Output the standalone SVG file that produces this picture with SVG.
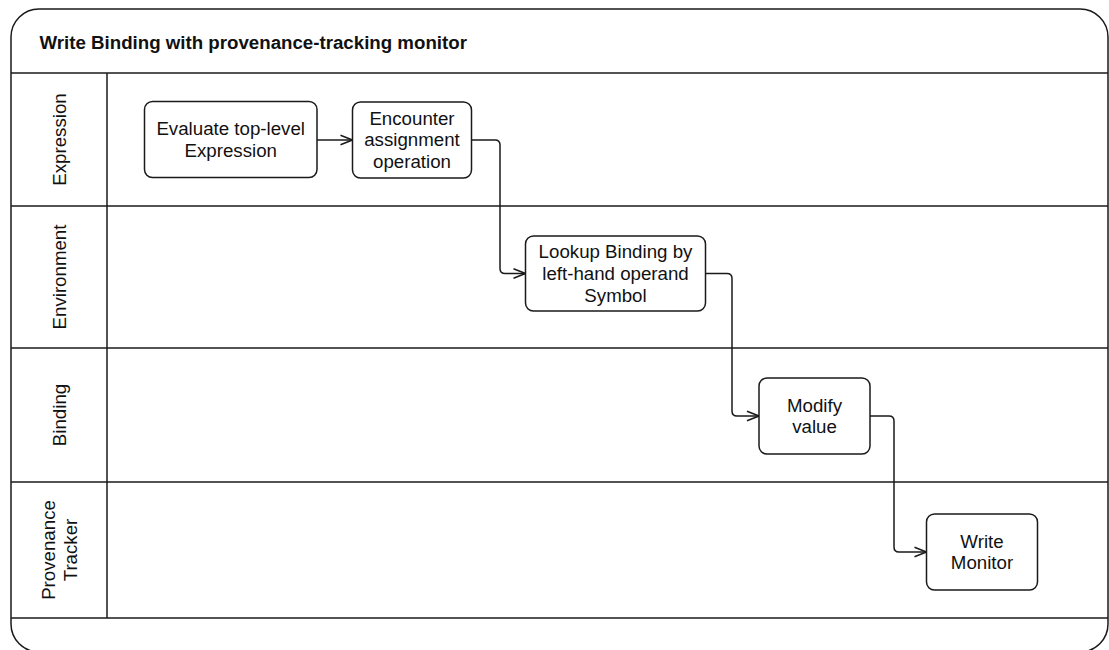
<svg xmlns="http://www.w3.org/2000/svg" width="1109" height="650" viewBox="0 0 1109 650">
  <style>
    .frame { fill: #ffffff; stroke: #1a1a1a; stroke-width: 1.5; }
    .rule { fill: none; stroke: #1a1a1a; stroke-width: 1.5; }
    .box { fill: #ffffff; stroke: #1a1a1a; stroke-width: 1.5; }
    .edge { fill: none; stroke: #1a1a1a; stroke-width: 1.5; }
    text { font-family: "Liberation Sans", Arial, Helvetica, sans-serif; font-size: 18.7px; fill: #111111; }
    .title { font-weight: bold; }
    .label { text-anchor: middle; }
  </style>
  <defs>
    <marker id="open-arrow" markerUnits="userSpaceOnUse" markerWidth="14" markerHeight="12" viewBox="0 0 14 12" refX="13" refY="6" orient="auto">
      <path d="M1,1.3 L13,6 L1,10.7" fill="none" stroke="#1a1a1a" stroke-width="1.5"/>
    </marker>
  </defs>

  <!-- pool frame, title bar and lanes -->
  <g id="pool">
    <rect class="frame" x="11" y="9" width="1097" height="643" rx="28" ry="28"/>
    <text class="title" x="39.5" y="49">Write Binding with provenance-tracking monitor</text>
    <line class="rule" x1="11" y1="73" x2="1108" y2="73"/>
    <line class="rule" x1="107" y1="73" x2="107" y2="618"/>
    <line class="rule" x1="11" y1="206" x2="1108" y2="206"/>
    <line class="rule" x1="11" y1="348" x2="1108" y2="348"/>
    <line class="rule" x1="11" y1="482" x2="1108" y2="482"/>
    <line class="rule" x1="11" y1="618" x2="1108" y2="618"/>
  </g>

  <g id="lane-expression">
    <text class="label" transform="translate(66,139.5) rotate(-90)">Expression</text>
  </g>
  <g id="lane-environment">
    <text class="label" transform="translate(66,277) rotate(-90)">Environment</text>
  </g>
  <g id="lane-binding">
    <text class="label" transform="translate(66,415) rotate(-90)">Binding</text>
  </g>
  <g id="lane-provenance-tracker">
    <text class="label" transform="translate(55,550) rotate(-90)">Provenance</text>
    <text class="label" transform="translate(76.7,550) rotate(-90)">Tracker</text>
  </g>

  <!-- connectors -->
  <g id="connectors">
    <path class="edge" d="M317,140 H352.5" marker-end="url(#open-arrow)"/>
    <path class="edge" d="M471.5,140 H495 Q500,140 500,145 V268.5 Q500,273.5 505,273.5 H525.5" marker-end="url(#open-arrow)"/>
    <path class="edge" d="M705.5,273.5 H727 Q732,273.5 732,278.5 V411 Q732,416 737,416 H759" marker-end="url(#open-arrow)"/>
    <path class="edge" d="M870,416 H889 Q894,416 894,421 V547 Q894,552 899,552 H926.5" marker-end="url(#open-arrow)"/>
  </g>

  <!-- activity nodes -->
  <g id="node-evaluate">
    <rect class="box" x="144.5" y="101.5" width="172.5" height="76" rx="8" ry="8"/>
    <text class="label" x="230.7" y="135.2">Evaluate top-level</text>
    <text class="label" x="230.7" y="156.9">Expression</text>
  </g>
  <g id="node-encounter">
    <rect class="box" x="352.5" y="102" width="119" height="76" rx="8" ry="8"/>
    <text class="label" x="412" y="124.5">Encounter</text>
    <text class="label" x="412" y="146.2">assignment</text>
    <text class="label" x="412" y="167.9">operation</text>
  </g>
  <g id="node-lookup">
    <rect class="box" x="525.5" y="236" width="180" height="75" rx="8" ry="8"/>
    <text class="label" x="615.5" y="258.3">Lookup Binding by</text>
    <text class="label" x="615.5" y="280">left-hand operand</text>
    <text class="label" x="615.5" y="301.7">Symbol</text>
  </g>
  <g id="node-modify">
    <rect class="box" x="759" y="378" width="111" height="76" rx="8" ry="8"/>
    <text class="label" x="814.5" y="411.5">Modify</text>
    <text class="label" x="814.5" y="433.2">value</text>
  </g>
  <g id="node-write-monitor">
    <rect class="box" x="926.5" y="514" width="111" height="76" rx="8" ry="8"/>
    <text class="label" x="982" y="547.5">Write</text>
    <text class="label" x="982" y="569.2">Monitor</text>
  </g>
</svg>
